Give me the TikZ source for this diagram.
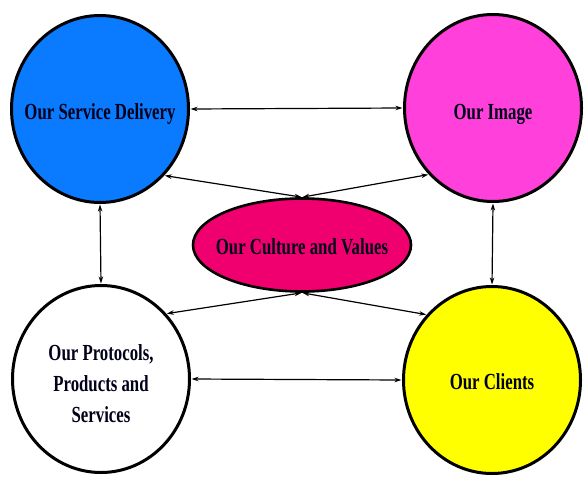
\documentclass[tikz,border=0pt]{standalone}
\usepackage{fontspec}
\newfontfamily\dfont[FakeStretch=0.73]{Liberation Serif}
\usetikzlibrary{shapes.geometric,arrows.meta}
\definecolor{cblue}{RGB}{10,122,255}
\definecolor{cmag}{RGB}{255,64,218}
\definecolor{cros}{RGB}{240,0,110}
\definecolor{cyel}{RGB}{255,255,0}
\tikzset{
  txt/.style={align=center, text=black!90!blue, font=\dfont\bfseries\fontsize{23}{31}\selectfont},
  bigc/.style={ellipse, draw=black, line width=3pt, minimum width=177pt, minimum height=187pt, inner sep=0pt},
  midell/.style={ellipse, draw=black, line width=2.6pt, minimum width=218pt, minimum height=93pt, inner sep=0pt},
  arr/.style={line width=1.2pt, {Stealth[length=7pt,width=4.5pt]}-{Stealth[length=7pt,width=4.5pt]}, shorten <=0.5pt, shorten >=0.5pt}
}
\begin{document}
\begin{tikzpicture}[x=1pt,y=-1pt]
\useasboundingbox (0,0) rectangle (585,476);
\node[bigc, fill=cblue] (sd) at (100,109) {};
\node[bigc, fill=cmag] (img) at (493,108) {};
\node[bigc, fill=white] (pps) at (101,379) {};
\node[bigc, fill=cyel] (cl) at (492,380) {};
\node[midell, fill=cros] (cv) at (302,245) {};
\node[txt] (sdt) at ([yshift=-5pt]sd.center) {Our Service Delivery};
\node[txt] (imgt) at ([yshift=-6pt]img.center) {Our Image};
\node[txt] (ppst) at ([yshift=-5pt]pps.center) {Our Protocols,\\Products and\\Services};
\node[txt] (clt) at ([yshift=-2pt]cl.center) {Our Clients};
\node[txt] (cvt) at ([yshift=-2pt]cv.center) {Our Culture and Values};
\draw[arr] (sd.east) -- (img.west);
\draw[arr] (pps.east) -- (cl.west);
\draw[arr] (sd.south) -- (pps.north);
\draw[arr] (img.south) -- (cl.north);
\draw[arr] (cv.north) -- (sd.-46);
\draw[arr] (cv.north) -- (img.-134);
\draw[arr] (cv.south) -- (pps.45);
\draw[arr] (cv.south) -- (cl.135);
\end{tikzpicture}
\end{document}
